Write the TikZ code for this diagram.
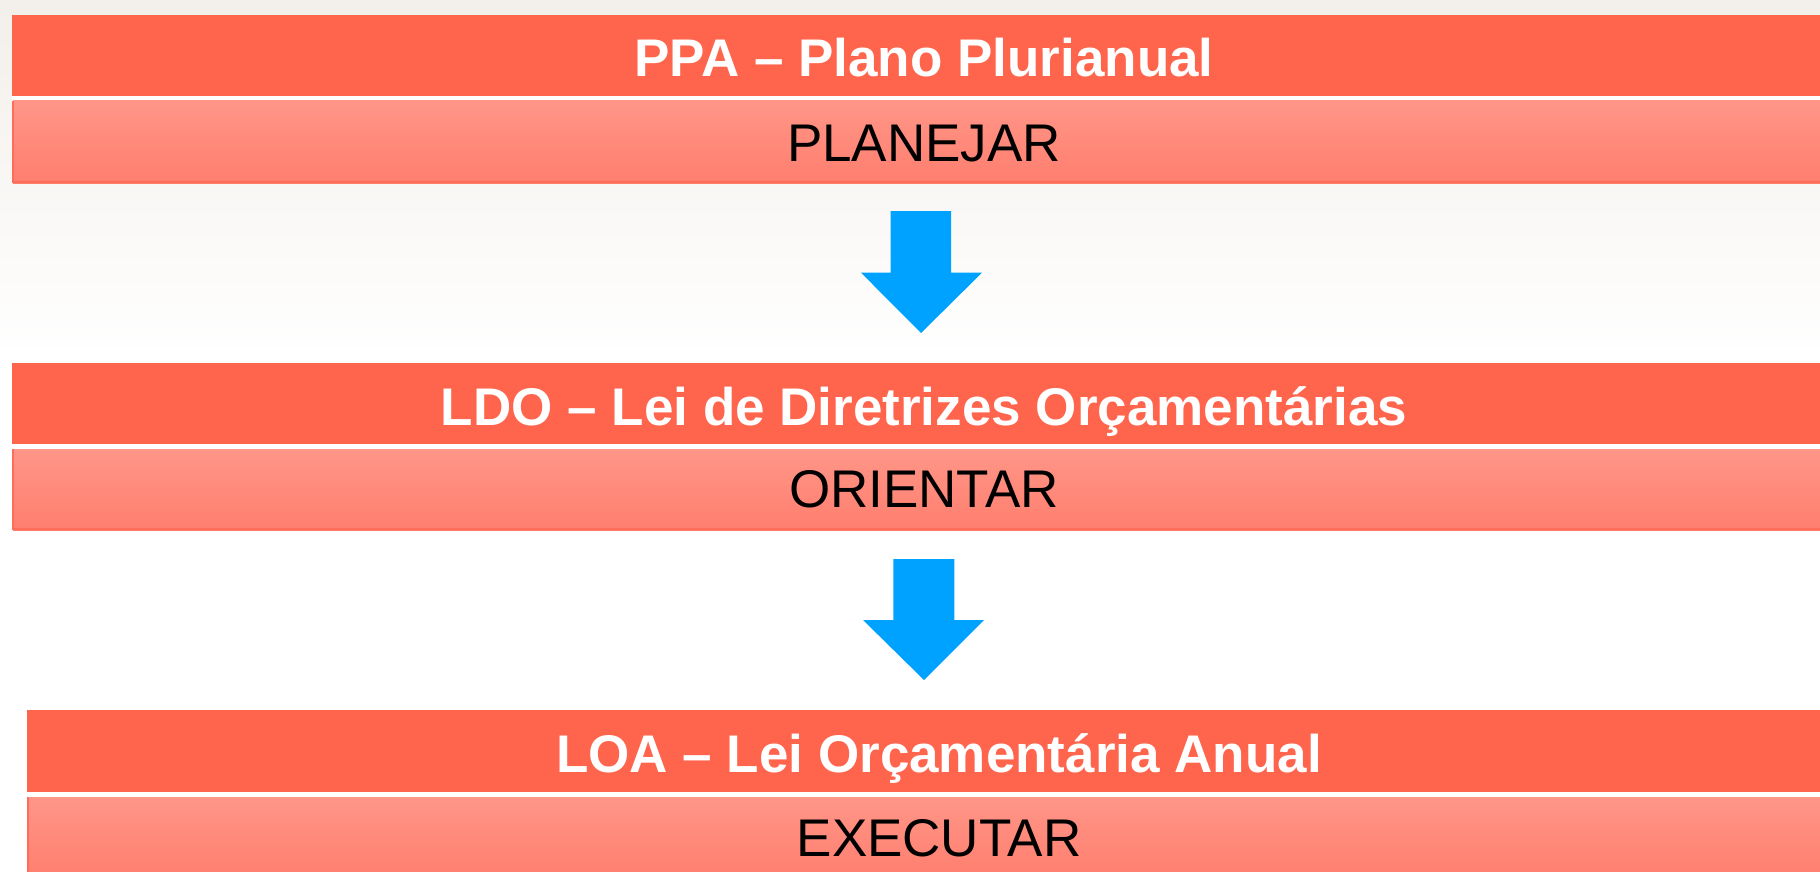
\documentclass[tikz,border=0pt]{standalone}
\usepackage{fontspec}
\setmainfont{Liberation Sans}
\definecolor{bandred}{RGB}{255,100,77}
\definecolor{lowtop}{RGB}{255,150,136}
\definecolor{lowbot}{RGB}{255,126,110}
\definecolor{lowedge}{RGB}{255,108,90}
\definecolor{arrowblue}{RGB}{0,162,255}
\definecolor{bgtop}{RGB}{243,239,234}
\begin{document}
\begin{tikzpicture}[x=1pt,y=-1pt,
  titleband/.style={fill=bandred, draw=none},
  lowband/.style={top color=lowtop, bottom color=lowbot, draw=none},
  titletext/.style={anchor=base, text=white, font=\fontsize{53}{60}\selectfont\bfseries, inner sep=0pt},
  subtext/.style={anchor=base, text=black, font=\fontsize{53}{60}\selectfont, inner sep=0pt},
  blockarrow/.style={fill=arrowblue, draw=none}]
\useasboundingbox (0,0) rectangle (1820,872);
% background
\fill[white] (0,0) rectangle (1820,872);
\shade[top color=bgtop, bottom color=white] (0,0) rectangle (1820,360);

% box 1
\fill[titleband] (12,15) rectangle (1820,96);
\fill[white] (12,96) rectangle (1820,101);
\shade[lowband] (13,101) rectangle (1820,183);
\draw[lowedge, line width=1.6pt] (13,101) -- (13,182.2) -- (1820,182.2);
\node[titletext] (t1) at (924,76.7) {PPA – Plano Plurianual};
\node[subtext] (s1) at (924,161) {PLANEJAR};

% box 2
\fill[titleband] (12,363) rectangle (1820,444);
\fill[white] (12,444) rectangle (1820,449);
\shade[lowband] (13,449) rectangle (1820,530);
\draw[lowedge, line width=1.6pt] (13,449) -- (13,529.2) -- (1820,529.2);
\node[titletext] (t2) at (924,425) {LDO – Lei de Diretrizes Orçamentárias};
\node[subtext] (s2) at (924,507.5) {ORIENTAR};

% box 3
\fill[titleband] (27,710) rectangle (1820,792);
\fill[white] (27,792) rectangle (1820,797);
\shade[lowband] (28,797) rectangle (1820,878);
\draw[lowedge, line width=1.6pt] (28,797) -- (28,872);
\node[titletext] (t3) at (939,772.7) {LOA – Lei Orçamentária Anual};
\node[subtext] (s3) at (939,856) {EXECUTAR};

% arrows
\fill[blockarrow] (890.7,211) -- (951,211) -- (951,272.7) -- (982,272.7)
  -- (921,333) -- (861,272.7) -- (890.7,272.7) -- cycle;
\fill[blockarrow] (893.3,559) -- (954.3,559) -- (954.3,620) -- (984,620)
  -- (924,680) -- (863,620) -- (893.3,620) -- cycle;
\end{tikzpicture}
\end{document}
